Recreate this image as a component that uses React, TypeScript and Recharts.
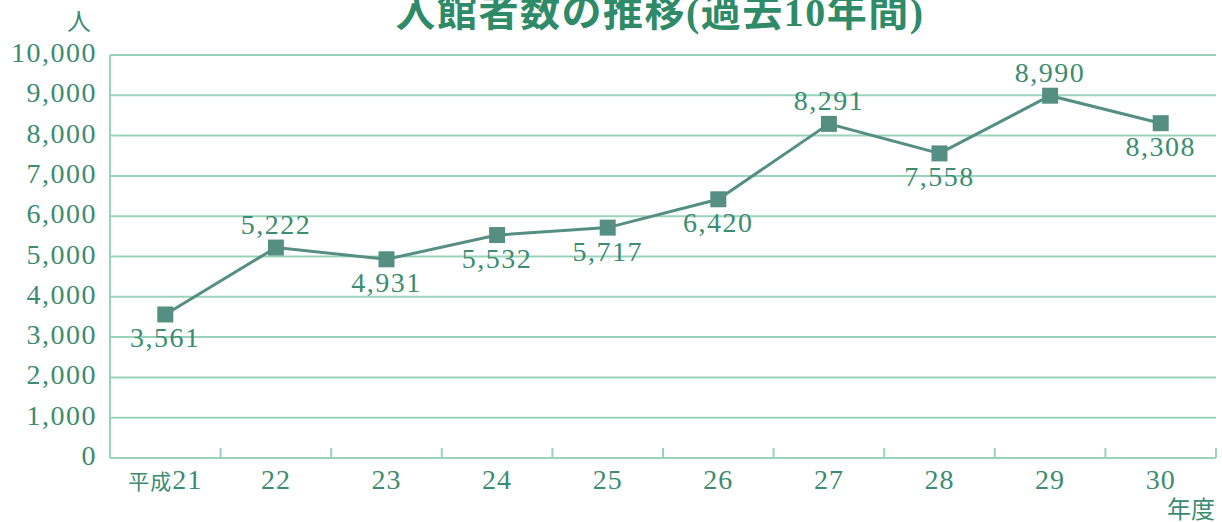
import React from 'react';
import {
  LineChart,
  Line,
  XAxis,
  YAxis,
  CartesianGrid,
  LabelList,
} from 'recharts';

const years = ['平成21', '22', '23', '24', '25', '26', '27', '28', '29', '30'];
const visitors = [3561, 5222, 4931, 5532, 5717, 6420, 8291, 7558, 8990, 8308];
const yTicks = [0, 1000, 2000, 3000, 4000, 5000, 6000, 7000, 8000, 9000, 10000];
// where each value label sits relative to its marker
const labelSide = ['below', 'above', 'below', 'below', 'below', 'below', 'above', 'below', 'above', 'below'];

const W = 1222;
const H = 522;
const PLOT_LEFT = 110;
const PLOT_RIGHT = 1216;
const PLOT_BOTTOM = 458;
const BAND = (PLOT_RIGHT - PLOT_LEFT) / years.length;

const GRID = '#9ad3b9';
const LINE = '#558f83';
const TEXT = '#3b8c70';
const FONT = "'Liberation Serif', 'Noto Sans CJK JP', serif";

const data = years.map((year, i) => ({ year, visitors: visitors[i] }));

const fmt = (v: number) => String(v).replace(/\B(?=(\d{3})+(?!\d))/g, ',');

const XTick = (props: any) => {
  const { x, y, payload } = props;
  const bx = x + BAND / 2;
  const label: string = payload.value;
  const m = label.match(/^(\D*)(\d+)$/);
  return (
    <g>
      <line x1={bx} x2={bx} y1={PLOT_BOTTOM} y2={PLOT_BOTTOM - 10} stroke={GRID} strokeWidth={2} />
      <text x={x} y={y} dy={23} textAnchor="middle" fill={TEXT} fontSize={28} fontFamily={FONT} letterSpacing={1}>
        {m && m[1] ? <tspan fontSize={21} fontFamily="'Noto Sans CJK JP', sans-serif">{m[1]}</tspan> : null}
        <tspan>{m ? m[2] : label}</tspan>
      </text>
    </g>
  );
};

const YTick = (props: any) => {
  const { x, y, payload } = props;
  return (
    <text x={x} y={y} dy={7} textAnchor="end" fill={TEXT} fontSize={28} fontFamily={FONT} letterSpacing={1.5}>
      {fmt(payload.value)}
    </text>
  );
};

const ValueLabel = (props: any) => {
  const { x, y, value, index } = props;
  const above = labelSide[index] === 'above';
  return (
    <text
      x={x}
      y={above ? y - 14 : y + 33}
      textAnchor="middle"
      fill={TEXT}
      fontSize={28}
      fontFamily={FONT}
      letterSpacing={1.5}
    >
      {fmt(value)}
    </text>
  );
};

const SquareDot = (props: any) => {
  const { cx, cy } = props;
  if (cx == null || cy == null) return null;
  return <rect x={cx - 8} y={cy - 8} width={16} height={16} fill={LINE} />;
};

export default function App() {
  return (
    <div style={{ position: 'absolute', left: 0, top: 0, width: W, height: H, background: '#fff' }}>
      <LineChart
        width={W}
        height={H}
        data={data}
        margin={{ top: 55, right: W - PLOT_RIGHT, bottom: 0, left: 10 }}
      >
        <CartesianGrid vertical={false} stroke={GRID} strokeWidth={2} />
        <XAxis
          dataKey="year"
          height={H - PLOT_BOTTOM}
          axisLine={{ stroke: GRID, strokeWidth: 2 }}
          tickLine={false}
          tick={<XTick />}
          interval={0}
          padding={{ left: BAND / 2, right: BAND / 2 }}
        />
        <YAxis
          width={100}
          domain={[0, 10000]}
          ticks={yTicks}
          axisLine={{ stroke: GRID, strokeWidth: 2 }}
          tickLine={false}
          tickSize={0}
          tickMargin={13}
          tick={<YTick />}
          interval={0}
        />
        <Line
          type="linear"
          dataKey="visitors"
          stroke={LINE}
          strokeWidth={3}
          dot={<SquareDot />}
          activeDot={false}
          isAnimationActive={false}
        >
          <LabelList dataKey="visitors" content={<ValueLabel />} />
        </Line>
      </LineChart>
      <svg
        width={W}
        height={H}
        style={{ position: 'absolute', left: 0, top: 0, pointerEvents: 'none' }}
      >
        <text x={660} y={26} textAnchor="middle" fill="#2e8a67" fontSize={40} fontWeight={700} fontFamily={FONT} letterSpacing={1.5}>
          入館者数の推移(過去10年間)
        </text>
        <text x={79} y={30} textAnchor="middle" fill={TEXT} fontSize={24} fontFamily={FONT}>
          人
        </text>
        <text x={1215} y={518} textAnchor="end" fill={TEXT} fontSize={24} fontFamily={FONT}>
          年度
        </text>
      </svg>
    </div>
  );
}
